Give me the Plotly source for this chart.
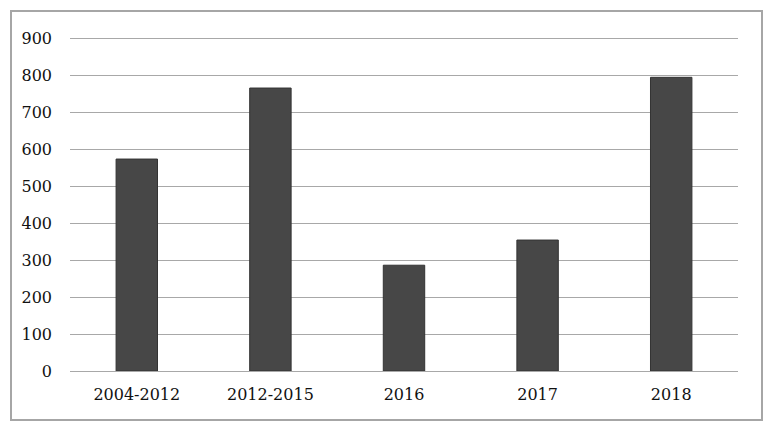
import plotly.graph_objects as go

categories = ["2004-2012", "2012-2015", "2016", "2017", "2018"]
values = [573, 765, 286, 354, 794]
y_ticks = [0, 100, 200, 300, 400, 500, 600, 700, 800, 900]

# page body has an 8px margin; figure is laid out relative to that
OFF = 8
W, H = 771 - 2 * OFF, 432 - 2 * OFF
L, T = 70 - OFF, 37 - OFF
R, B = W - (738 - OFF), H - (371 - OFF)
pw, ph = W - L - R, H - T - B

fig = go.Figure(go.Bar(
    x=categories, y=values,
    marker=dict(color="#474747", line=dict(color="#333333", width=1)),
))

fig.update_layout(
    width=W, height=H,
    margin=dict(l=L, r=R, t=T, b=B),
    paper_bgcolor="white", plot_bgcolor="white",
    bargap=0.69,
    showlegend=False,
    font=dict(family="DejaVu Serif", size=16, color="#111111"),
    xaxis=dict(showgrid=False, showline=False, zeroline=False,
               ticks="", ticklabelstandoff=12),
    yaxis=dict(range=[0, 903], tickvals=y_ticks, showgrid=True,
               gridcolor="#a8a8a8", gridwidth=1, zeroline=True,
               zerolinecolor="#a8a8a8", zerolinewidth=1, showline=False,
               ticks="", ticklabelstandoff=17),
    shapes=[dict(type="rect", xref="paper", yref="paper",
                 x0=(11 - 70) / pw, x1=(762 - 70) / pw,
                 y0=(371 - 420) / ph, y1=(371 - 11) / ph,
                 line=dict(color="#a6a6a6", width=2),
                 fillcolor="rgba(0,0,0,0)", layer="below")],
)

fig.write_html("out.html")
